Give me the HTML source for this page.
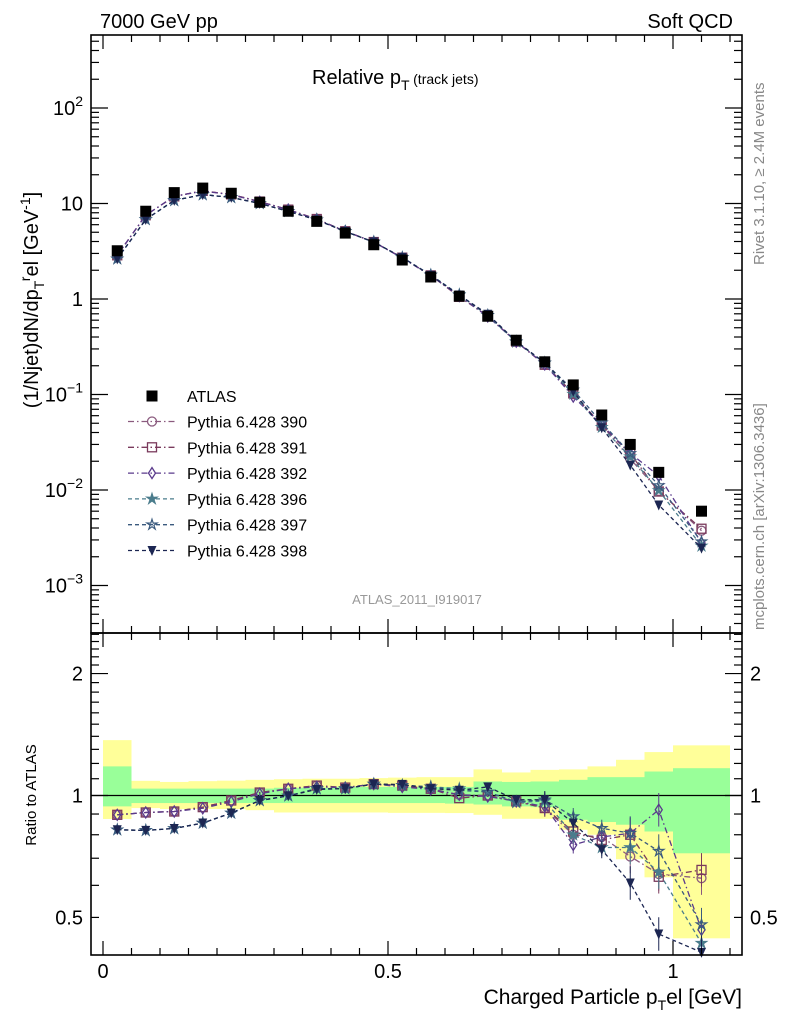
<!DOCTYPE html>
<html><head><meta charset="utf-8"><style>
html,body{margin:0;padding:0;background:#fff;}
svg{display:block;font-family:"Liberation Sans",sans-serif;}
</style></head><body>
<svg id="chart" width="786" height="1024" viewBox="0 0 786 1024" xmlns="http://www.w3.org/2000/svg">
<text x="100" y="28" font-size="20">7000 GeV pp</text>
<text x="733" y="28" font-size="20" text-anchor="end">Soft QCD</text>
<text x="312" y="84" font-size="20">Relative p<tspan font-size="14" dy="6">T</tspan><tspan font-size="14" dy="-6"> (track jets)</tspan></text>
<text transform="translate(38,300) rotate(-90)" font-size="20" text-anchor="middle">(1/Njet)dN/dp<tspan font-size="14" dy="6">T</tspan><tspan font-size="14" dy="-14">r</tspan><tspan dy="8">el [GeV</tspan><tspan font-size="14" dy="-8">-1</tspan><tspan dy="8">]</tspan></text>
<text transform="translate(764,265) rotate(-90)" font-size="15" fill="#888">Rivet 3.1.10, ≥ 2.4M events</text>
<text transform="translate(764,630) rotate(-90)" font-size="15" fill="#888">mcplots.cern.ch [arXiv:1306.3436]</text>
<text x="417" y="604" font-size="13" fill="#999" text-anchor="middle">ATLAS_2011_I919017</text>
<text transform="translate(36,795) rotate(-90)" font-size="15" text-anchor="middle">Ratio to ATLAS</text>
<text x="742" y="1004" font-size="21" text-anchor="end">Charged Particle p<tspan font-size="14" dy="6">T</tspan><tspan dy="-6">el [GeV]</tspan></text>
<g id="bands"></g><g id="main"></g><g id="ratio"></g><g id="axes"></g><g id="legend"></g>
</svg>
<script>
const xCenters=[0.025,0.075,0.125,0.175,0.225,0.275,0.325,0.375,0.425,0.475,0.525,0.575,0.625,0.675,0.725,0.775,0.825,0.875,0.925,0.975,1.05];
const binLo=[0,0.05,0.1,0.15,0.2,0.25,0.3,0.35,0.4,0.45,0.5,0.55,0.6,0.65,0.7,0.75,0.8,0.85,0.9,0.95,1.0];
const binHi=[0.05,0.1,0.15,0.2,0.25,0.3,0.35,0.4,0.45,0.5,0.55,0.6,0.65,0.7,0.75,0.8,0.85,0.9,0.95,1.0,1.1];
const atlas=[3.2,8.3,13,14.5,12.8,10.3,8.3,6.5,4.9,3.7,2.56,1.7,1.07,0.66,0.37,0.22,0.126,0.061,0.030,0.0153,0.0060];
const yelHi=[1.37,1.087,1.08,1.085,1.088,1.093,1.097,1.10,1.10,1.104,1.107,1.11,1.11,1.16,1.14,1.157,1.16,1.18,1.225,1.28,1.33];
const yelLo=[0.875,0.931,0.926,0.926,0.926,0.92,0.908,0.908,0.908,0.908,0.906,0.906,0.905,0.896,0.876,0.876,0.823,0.80,0.696,0.628,0.444];
const grnHi=[1.18,1.04,1.04,1.04,1.04,1.04,1.045,1.045,1.05,1.05,1.05,1.05,1.05,1.083,1.08,1.083,1.093,1.11,1.11,1.146,1.168];
const grnLo=[0.94,0.958,0.958,0.958,0.958,0.958,0.958,0.958,0.958,0.958,0.958,0.958,0.955,0.95,0.94,0.936,0.871,0.86,0.847,0.815,0.72];
const r390=[0.896,0.908,0.913,0.936,0.972,1.017,1.039,1.058,1.046,1.067,1.058,1.039,1.004,1.0,0.967,0.931,0.80,0.79,0.707,0.64,0.625];
const r391=[0.896,0.908,0.913,0.936,0.972,1.017,1.039,1.058,1.046,1.067,1.058,1.039,0.985,1.0,0.967,0.931,0.815,0.777,0.80,0.63,0.655];
const r392=[0.896,0.908,0.913,0.93,0.965,1.01,1.039,1.05,1.046,1.067,1.05,1.035,1.004,0.995,0.967,0.94,0.755,0.79,0.807,0.922,0.466];
const r396=[0.823,0.82,0.829,0.855,0.905,0.972,0.998,1.04,1.04,1.067,1.06,1.05,1.04,1.02,0.96,0.97,0.80,0.744,0.744,0.647,0.432];
const r397=[0.823,0.82,0.829,0.855,0.905,0.972,0.998,1.04,1.04,1.067,1.06,1.05,1.03,1.02,0.965,0.976,0.887,0.83,0.807,0.729,0.48];
const r398=[0.823,0.82,0.829,0.855,0.905,0.972,0.998,1.035,1.04,1.067,1.065,1.04,1.03,1.05,0.976,0.976,0.855,0.735,0.608,0.455,0.41];
const seriesNames=["Pythia 6.428 390","Pythia 6.428 391","Pythia 6.428 392","Pythia 6.428 396","Pythia 6.428 397","Pythia 6.428 398"];
const yTickVals=[100,10,1,0.1,0.01,0.001];
const yTickLabels=[["10","2"],["10",""],["1",""],["10","−1"],["10","−2"],["10","−3"]];
const xTickVals=[0,0.5,1];
const xTickLabels=["0","0.5","1"];
const rTickVals=[2,1,0.5];
const rTickLabels=["2","1","0.5"];

const NS="http://www.w3.org/2000/svg";
const L=91,R=742,T=35,MB=633,RB=955;
const X=v=>103+570*v;
const Y=v=>299-95.5*Math.log10(v);
const RY=v=>795.5-405*Math.log10(v);
function mk(p,tag,a){const e=document.createElementNS(NS,tag);for(const k in a)e.setAttribute(k,a[k]);p.appendChild(e);return e;}
const g=id=>document.getElementById(id);

const bands=g('bands');
for(let i=0;i<binLo.length;i++){
  const y1=mk(bands,'rect',{x:X(binLo[i]),y:RY(yelHi[i]),width:X(binHi[i])-X(binLo[i]),height:RY(yelLo[i])-RY(yelHi[i]),fill:'#ffff99'});
  
  
  const g1=mk(bands,'rect',{x:X(binLo[i]),y:RY(grnHi[i]),width:X(binHi[i])-X(binLo[i]),height:RY(grnLo[i])-RY(grnHi[i]),fill:'#99ff99'});
  
  
}
const one=mk(bands,'line',{x1:L,x2:R,y1:RY(1),y2:RY(1),stroke:'#000','stroke-width':1.3});



const styles=[
 {c:'#8a5a7e',d:'6,3,1.5,3',m:'circle'},
 {c:'#7a3a5c',d:'6,3,1.5,3',m:'square'},
 {c:'#5a3a8c',d:'6,3,1.5,3',m:'diamond'},
 {c:'#4a7c8c',d:'4,3',m:'starf'},
 {c:'#3a5a7e',d:'4,3',m:'staro'},
 {c:'#1c2652',d:'4,3',m:'tri'}];
const ratios=[r390,r391,r392,r396,r397,r398];
function marker(p,type,x,y,c,s){
  s=s||5;
  if(type==='circle')return mk(p,'circle',{cx:x,cy:y,r:s,fill:'none',stroke:c,'stroke-width':1.3});
  if(type==='square')return mk(p,'rect',{x:x-s,y:y-s,width:2*s,height:2*s,fill:'none',stroke:c,'stroke-width':1.3});
  if(type==='diamond')return mk(p,'polygon',{points:`${x},${y-s-1} ${x+s-1},${y} ${x},${y+s+1} ${x-s+1},${y}`,fill:'none',stroke:c,'stroke-width':1.3});
  if(type==='starf'||type==='staro'){let pts=[];for(let k=0;k<10;k++){const a=-Math.PI/2+k*Math.PI/5,rr=k%2?s*0.45:s*1.2;pts.push((x+rr*Math.cos(a)).toFixed(1)+','+(y+rr*Math.sin(a)).toFixed(1));}
    return mk(p,'polygon',{points:pts.join(' '),fill:type==='starf'?c:'none',stroke:c,'stroke-width':1.2});}
  if(type==='tri')return mk(p,'polygon',{points:`${x-s},${y-s} ${x+s},${y-s} ${x},${y+s+1}`,fill:c});
  if(type==='atlas')return mk(p,'rect',{x:x-5.5,y:y-5.5,width:11,height:11,fill:'#000'});
}
const main=g('main'),ratio=g('ratio');
ratios.forEach((r,si)=>{
  const st=styles[si];
  const mv=r.map((v,i)=>v*atlas[i]);
  const pl=mk(main,'polyline',{points:xCenters.map((x,i)=>X(x)+','+Y(mv[i])).join(' '),fill:'none',stroke:st.c,'stroke-width':1.3,'stroke-dasharray':st.d});
  
  
  const rl=mk(ratio,'polyline',{points:xCenters.map((x,i)=>X(x)+','+RY(Math.max(r[i],0.4))).join(' '),fill:'none',stroke:st.c,'stroke-width':1.3,'stroke-dasharray':st.d});
  
  
  xCenters.forEach((x,i)=>{
    const m1=marker(main,st.m,X(x),Y(mv[i]),st.c,4.5);
    
    
    if(r[i]>=0.4){
      if(i>=15){const f=i>=18?1.1:1.05;const e=mk(ratio,'line',{x1:X(x),x2:X(x),y1:RY(r[i]*f),y2:RY(Math.max(r[i]/f,0.4)),stroke:st.c,'stroke-width':1});
        
        }
      const m2=marker(ratio,st.m,X(x),RY(r[i]),st.c,4.5);
      
      
    }
  });
});
xCenters.forEach((x,i)=>{
  const a=marker(main,'atlas',X(x),Y(atlas[i]),'#000');
  
  
});

const ax=g('axes');
[[T,MB],[MB,RB]].forEach(([t,b],pi)=>{
  const f=mk(ax,'rect',{x:L,y:t,width:R-L,height:b-t,fill:'none',stroke:'#000','stroke-width':1.6});
  
  
  for(let k=0;k<=22;k++){const v=k*0.05,xx=X(v);if(xx>R)break;const len=(k%10===0)?14:7;
    mk(ax,'line',{x1:xx,x2:xx,y1:t,y2:t+len,stroke:'#000','stroke-width':1.2});
    mk(ax,'line',{x1:xx,x2:xx,y1:b,y2:b-len,stroke:'#000','stroke-width':1.2});}
});
for(let d=-4;d<=2;d++)for(let m=1;m<10;m++){const v=m*Math.pow(10,d),yy=Y(v);if(yy<T||yy>MB)continue;const len=m===1?17:8;
  mk(ax,'line',{x1:L,x2:L+len,y1:yy,y2:yy,stroke:'#000','stroke-width':1.2});
  mk(ax,'line',{x1:R,x2:R-len,y1:yy,y2:yy,stroke:'#000','stroke-width':1.2});}
yTickVals.forEach((v,i)=>{const t=mk(ax,'text',{x:L-8,y:Y(v)+7,'font-size':20,'text-anchor':'end'});
  
  
  if(yTickLabels[i][1]){t.innerHTML=yTickLabels[i][0]+'<tspan font-size="14" dy="-9">'+yTickLabels[i][1]+'</tspan>';}else t.textContent=yTickLabels[i][0];});
for(let k=4;k<=25;k++){const v=k/10,yy=RY(v);if(yy<MB||yy>RB)continue;const len=(v===1||v===2)?17:8;
  mk(ax,'line',{x1:L,x2:L+len,y1:yy,y2:yy,stroke:'#000','stroke-width':1.2});
  mk(ax,'line',{x1:R,x2:R-len,y1:yy,y2:yy,stroke:'#000','stroke-width':1.2});}
rTickVals.forEach((v,i)=>{
  const a=mk(ax,'text',{x:L-8,y:RY(v)+7,'font-size':20,'text-anchor':'end'});a.textContent=rTickLabels[i];
  
  
  const b=mk(ax,'text',{x:R+8,y:RY(v)+7,'font-size':20});b.textContent=rTickLabels[i];
  
  });
xTickVals.forEach((v,i)=>{const t=mk(ax,'text',{x:X(v),y:978,'font-size':20,'text-anchor':'middle'});t.textContent=xTickLabels[i];
  
  });

const lg=g('legend');
marker(lg,'atlas',152,396,'#000');
const lt=mk(lg,'text',{x:187,y:402,'font-size':16});lt.textContent='ATLAS';


seriesNames.forEach((n,i)=>{const y=421.5+i*25.8,st=styles[i];
  mk(lg,'line',{x1:128,x2:176,y1:y,y2:y,stroke:st.c,'stroke-width':1.3,'stroke-dasharray':st.d});
  marker(lg,st.m,152,y,st.c,4.5);
  const t=mk(lg,'text',{x:187,y:y+6,'font-size':16});t.textContent=n;
  
  });
</script>
</body></html>
